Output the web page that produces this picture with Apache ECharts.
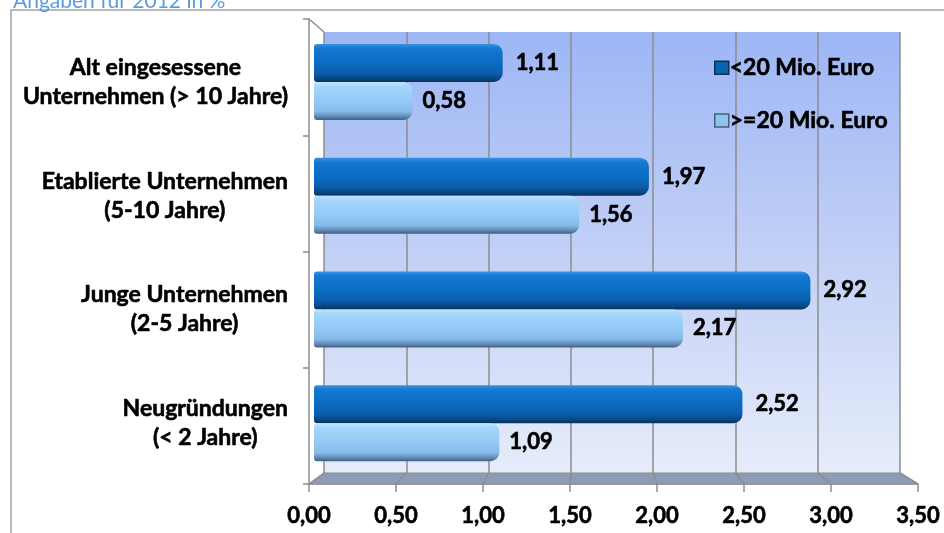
<!DOCTYPE html>
<html>
<head>
<meta charset="utf-8">
<script src="https://cdn.jsdelivr.net/npm/echarts@6/dist/echarts.min.js"></script>
<style>
  html, body { margin: 0; padding: 0; background: #ffffff; }
  #chart { width: 944px; height: 533px; }
</style>
</head>
<body>
<div id="chart"></div>
<script>
// Unternehmensalter: Anteil je Umsatzklasse
const categories = [
  'Alt eingesessene\nUnternehmen (> 10 Jahre)',
  'Etablierte Unternehmen\n(5-10 Jahre)',
  'Junge Unternehmen\n(2-5 Jahre)',
  'Neugründungen\n(< 2 Jahre)'
];
const seriesNames = ['<20 Mio. Euro', '>=20 Mio. Euro'];
const smallFirms = [1.11, 1.97, 2.92, 2.52];
const largeFirms = [0.58, 1.56, 2.17, 1.09];
const axisMin = 0;
const axisMax = 3.5;
const axisStep = 0.5;

const W = 944, H = 533;
// back wall, front floor edge and bar plane
const back = { left: 324, right: W - 900, top: 32, bottom: H - 473 };
const front = { left: 309, right: W - 918, top: 19, bottom: H - 484 };
const bars = { left: 314, right: W - 909, top: 25, bottom: H - 480 };

const FONT = 'Lato, "Open Sans", sans-serif';
const WEIGHT = 'bold';
// a hairline outline in the text colour makes the bold face a little heavier
const heavy = { color: '#000', textBorderColor: '#000', textBorderWidth: 0.6 };
const fmt = v => v.toFixed(2).replace('.', ',');

const darkGrad = {
  type: 'linear', x: 0, y: 0, x2: 0, y2: 1,
  colorStops: [
    { offset: 0, color: '#3893e4' },
    { offset: 0.12, color: '#1479d0' },
    { offset: 0.5, color: '#0a6cc2' },
    { offset: 0.78, color: '#0a5cab' },
    { offset: 0.92, color: '#084680' },
    { offset: 1, color: '#06325c' }
  ]
};
const lightGrad = {
  type: 'linear', x: 0, y: 0, x2: 0, y2: 1,
  colorStops: [
    { offset: 0, color: '#c4e5fd' },
    { offset: 0.12, color: '#a6d6fb' },
    { offset: 0.5, color: '#93caf6' },
    { offset: 0.78, color: '#86bbe9' },
    { offset: 0.92, color: '#5f87b0' },
    { offset: 1, color: '#405f82' }
  ]
};
const wallGrad = {
  type: 'linear', x: 0, y: 0, x2: 0, y2: 1,
  colorStops: [
    { offset: 0, color: '#9db6f5' },
    { offset: 0.5, color: '#c2d0f6' },
    { offset: 1, color: '#e6ecfa' }
  ]
};

const chart = echarts.init(document.getElementById('chart'), null, { renderer: 'canvas' });

const labelRich = {
  c: Object.assign({ align: 'center', fontFamily: FONT, fontWeight: WEIGHT, fontSize: 23, lineHeight: 29 }, heavy)
};

const option = {
  animation: false,
  backgroundColor: '#ffffff',
  title: {
    text: 'Angaben für 2012 in %',
    left: 8, top: -14,
    textStyle: { color: '#5b9be0', fontFamily: FONT, fontWeight: 'normal', fontSize: 21 }
  },
  legend: {
    orient: 'vertical',
    left: 709, top: 51,
    itemWidth: 14, itemHeight: 13,
    itemGap: 29,
    icon: 'rect',
    textStyle: Object.assign({ fontFamily: FONT, fontWeight: WEIGHT, fontSize: 23, padding: [0, 0, 0, -4] }, heavy),
    data: [
      { name: seriesNames[0], itemStyle: { color: '#0b62b0', borderColor: '#10304f', borderWidth: 1.5 } },
      { name: seriesNames[1], itemStyle: { color: '#8ec3ee', borderColor: '#44607e', borderWidth: 1.5 } }
    ]
  },
  grid: [
    Object.assign({ show: true, backgroundColor: wallGrad, borderWidth: 0 }, back),
    Object.assign({}, front),
    Object.assign({}, bars)
  ],
  xAxis: [
    {
      gridIndex: 0, type: 'value', min: axisMin, max: axisMax, interval: axisStep,
      axisLine: { show: false }, axisTick: { show: false }, axisLabel: { show: false },
      splitLine: { show: true, lineStyle: { color: '#8d8d8d', width: 1.5 } }
    },
    {
      gridIndex: 1, type: 'value', min: axisMin, max: axisMax, interval: axisStep,
      axisLine: { show: true, lineStyle: { color: '#8d8d8d', width: 1.5 } },
      axisTick: { show: true, length: 8, lineStyle: { color: '#8d8d8d', width: 1.5 } },
      axisLabel: Object.assign({
        show: true, margin: 21, formatter: v => fmt(v),
        fontFamily: FONT, fontWeight: WEIGHT, fontSize: 22
      }, heavy),
      splitLine: { show: false }
    },
    {
      gridIndex: 2, type: 'value', min: axisMin, max: axisMax, interval: axisStep,
      show: false
    }
  ],
  yAxis: [
    {
      gridIndex: 0, type: 'category', data: categories, inverse: true, show: false
    },
    {
      gridIndex: 1, type: 'category', data: categories, inverse: true,
      axisLine: { show: true, onZero: false, lineStyle: { color: '#8d8d8d', width: 1.5 } },
      axisTick: { show: true, length: 6, lineStyle: { color: '#8d8d8d', width: 1.5 } },
      axisLabel: { show: false },
      splitLine: { show: false }
    },
    {
      gridIndex: 2, type: 'category', data: categories, inverse: true,
      axisLine: { show: false }, axisTick: { show: false },
      axisLabel: {
        show: true, margin: 26, align: 'right',
        formatter: v => v.split('\n').map(s => '{c|' + s + '}').join('\n'),
        rich: labelRich
      }
    }
  ],
  series: [
    {
      name: seriesNames[0], type: 'bar', xAxisIndex: 2, yAxisIndex: 2,
      data: smallFirms, barWidth: 38, barGap: '0%',
      itemStyle: { color: darkGrad, borderRadius: [3, 9, 9, 3] },
      label: Object.assign({
        show: true, position: 'right', distance: 13, formatter: p => fmt(p.value),
        fontFamily: FONT, fontWeight: WEIGHT, fontSize: 22
      }, heavy),
      z: 3
    },
    {
      name: seriesNames[1], type: 'bar', xAxisIndex: 2, yAxisIndex: 2,
      data: largeFirms, barWidth: 38, barGap: '0%',
      itemStyle: { color: lightGrad, borderRadius: [3, 9, 9, 3] },
      label: Object.assign({
        show: true, position: 'right', distance: 10, formatter: p => fmt(p.value),
        fontFamily: FONT, fontWeight: WEIGHT, fontSize: 22
      }, heavy),
      z: 3
    }
  ]
};

chart.setOption(option);

// Floor, its diagonal grid lines, the wall's top edge and the outer frame
const backY = H - back.bottom;
const frontY = H - front.bottom;
const bx = v => chart.convertToPixel({ xAxisIndex: 0 }, v);
const fx = v => chart.convertToPixel({ xAxisIndex: 1 }, v);
const gridStroke = { stroke: '#8d8d8d', lineWidth: 1.5 };

const decor = [];
decor.push({
  type: 'polygon', z: 1, silent: true,
  shape: { points: [[bx(axisMin), backY], [bx(axisMax), backY], [fx(axisMax), frontY], [fx(axisMin), frontY]] },
  style: { fill: '#8e9bb6', stroke: '#8d8d8d', lineWidth: 1 }
});
for (let v = axisMin; v <= axisMax + 1e-9; v += axisStep) {
  decor.push({
    type: 'line', z: 1, silent: true,
    shape: { x1: bx(v), y1: backY, x2: fx(v), y2: frontY },
    style: gridStroke
  });
}
decor.push({
  type: 'line', z: 1, silent: true,
  shape: { x1: fx(axisMin), y1: front.top, x2: bx(axisMin), y2: back.top },
  style: gridStroke
});
decor.push({
  type: 'polyline', z: 1, silent: true,
  shape: { points: [[11, H], [11, 10], [W, 10]] },
  style: { stroke: '#a3a3a3', lineWidth: 1.5, fill: null }
});
chart.setOption({ graphic: decor });
</script>
</body>
</html>
